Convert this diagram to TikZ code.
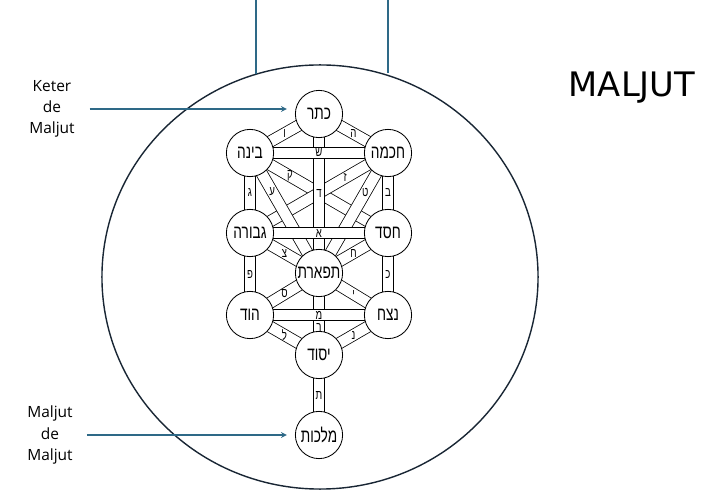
\documentclass[tikz,border=0pt]{standalone}
\usepackage{fontspec}
\usepackage{tikz}
\usetikzlibrary{backgrounds}
\setmainfont{Open Sans}
\newfontfamily\hebfont[Script=Hebrew,FakeStretch=0.72]{Liberation Sans}
\newfontfamily\titlefont{DejaVu Sans}
\TeXXeTstate=1
\newcommand{\hebtxt}[1]{{\hebfont\beginR #1\endR}}
\definecolor{maljutazul}{RGB}{46,105,135}
\definecolor{maljutborde}{RGB}{25,38,52}

\tikzset{
  sefira/.style={circle,draw,fill=white,line width=0.6pt,minimum size=11.8mm,inner sep=0pt,font=\fontsize{13.5}{13.5}\selectfont},
  nativ/.style={line width=0.55pt,double=white,double distance=7.5pt},
  ot/.style={font=\fontsize{9.5}{9.5}\selectfont,inner sep=0pt},
  lado/.style={align=center,font=\fontsize{11}{15}\selectfont},
  flecha/.style={maljutazul,line width=0.9pt,-stealth}
}

\begin{document}
\begin{tikzpicture}[x=0.025cm,y=-0.025cm]
\useasboundingbox (0,0) rectangle (706,492);

\draw[maljutborde,line width=1pt] (320,277) ellipse [x radius=5.45cm,y radius=5.3cm];
\coordinate (topa) at (256,0);
\coordinate (cortea) at (256,74);
\coordinate (topb) at (388,0);
\coordinate (corteb) at (388,73.5);
\draw[maljutazul,line width=0.9pt] (topa) -- (cortea);
\draw[maljutazul,line width=0.9pt] (topb) -- (corteb);

\node[font=\titlefont\fontsize{24}{24}\selectfont] (titulo) at (632,88) {MALJUT};

% sefirot
\node[sefira] (keter) at (319,114) {\hebtxt{כתר}};
\node[sefira] (binah) at (250,153) {\hebtxt{בינה}};
\node[sefira] (chojmah) at (388,153) {\hebtxt{חכמה}};
\node[sefira] (guevurah) at (250,233) {\hebtxt{גבורה}};
\node[sefira] (jesed) at (388,233) {\hebtxt{חסד}};
\node[sefira] (tiferet) at (319,273) {\hebtxt{תפארת}};
\node[sefira] (hod) at (250,315) {\hebtxt{הוד}};
\node[sefira] (netzaj) at (388,315) {\hebtxt{נצח}};
\node[sefira] (yesod) at (319,355) {\hebtxt{יסוד}};
\node[sefira] (maljut) at (319,435) {\hebtxt{מלכות}};

% senderos
\begin{pgfonlayer}{background}
\draw[nativ] (binah.center) -- node[ot,pos=0.29]{\hebtxt{ק}} (jesed.center);
\draw[nativ] (chojmah.center) -- node[ot,pos=0.31]{\hebtxt{ז}} (guevurah.center);
\draw[nativ] (binah.center) -- node[ot,pos=0.32]{\hebtxt{ע}} (tiferet.center);
\draw[nativ] (chojmah.center) -- node[ot,pos=0.33]{\hebtxt{ט}} (tiferet.center);
\draw[nativ] (guevurah.center) -- node[ot]{\hebtxt{צ}} (tiferet.center);
\draw[nativ] (jesed.center) -- node[ot]{\hebtxt{ח}} (tiferet.center);
\draw[nativ] (keter.center) -- node[ot,pos=0.5]{\hebtxt{ד}} (tiferet.center);
\draw[nativ] (keter.center) -- node[ot]{\hebtxt{ו}} (binah.center);
\draw[nativ] (keter.center) -- node[ot]{\hebtxt{ה}} (chojmah.center);
\draw[nativ] (binah.center) -- node[ot]{\hebtxt{ג}} (guevurah.center);
\draw[nativ] (chojmah.center) -- node[ot]{\hebtxt{ב}} (jesed.center);
\draw[nativ] (guevurah.center) -- node[ot]{\hebtxt{פ}} (hod.center);
\draw[nativ] (jesed.center) -- node[ot]{\hebtxt{כ}} (netzaj.center);
\draw[nativ] (tiferet.center) -- node[ot]{\hebtxt{ס}} (hod.center);
\draw[nativ] (tiferet.center) -- node[ot]{\hebtxt{י}} (netzaj.center);
\draw[nativ] (tiferet.center) -- node[ot,pos=0.66]{\hebtxt{ר}} (yesod.center);
\draw[nativ] (hod.center) -- node[ot]{\hebtxt{ל}} (yesod.center);
\draw[nativ] (netzaj.center) -- node[ot]{\hebtxt{נ}} (yesod.center);
\draw[nativ] (yesod.center) -- node[ot]{\hebtxt{ת}} (maljut.center);
\draw[nativ] (binah.center) -- node[ot]{\hebtxt{ש}} (chojmah.center);
\draw[nativ] (guevurah.center) -- node[ot]{\hebtxt{א}} (jesed.center);
\draw[nativ] (hod.center) -- node[ot]{\hebtxt{מ}} (netzaj.center);
\end{pgfonlayer}

% etiquetas
\node[lado] (keterlbl) at (52,109) {Keter\\de\\Maljut};
\node[lado] (maljutlbl) at (50,435) {Maljut\\de\\Maljut};
\draw[flecha,shorten <=2.5mm,shorten >=2mm] (keterlbl) -- (keterlbl -| keter.west);
\draw[flecha,shorten <=2.3mm,shorten >=2mm] (maljutlbl) -- (maljutlbl -| maljut.west);
\end{tikzpicture}
\end{document}
